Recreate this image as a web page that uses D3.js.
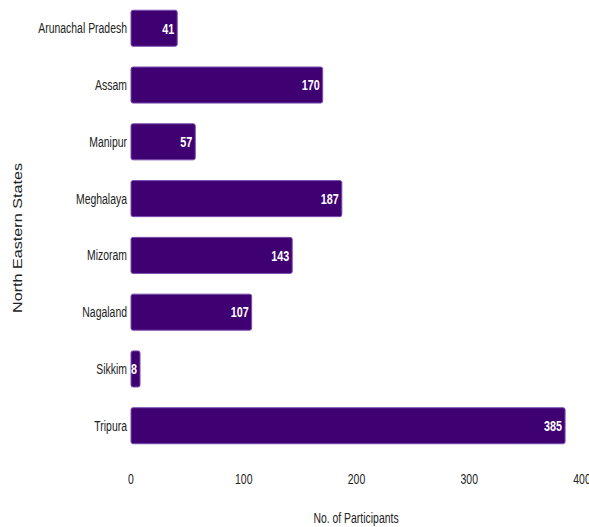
<!DOCTYPE html>
<html>
<head>
<meta charset="utf-8">
<script src="https://cdn.jsdelivr.net/npm/d3@7"></script>
<style>
  body { margin: 0; background: #fff; }
  text { font-family: 'Liberation Sans', Arial, sans-serif; }
</style>
</head>
<body>
<div id="chart"></div>
<script>
const states = ['Arunachal Pradesh', 'Assam', 'Manipur', 'Meghalaya', 'Mizoram', 'Nagaland', 'Sikkim', 'Tripura']
const participants = [41, 170, 57, 187, 143, 107, 8, 385]
const xTicks = [0, 100, 200, 300, 400]

const data = states.map((s, i) => ({ state: s, value: participants[i] }))

const margin = { left: 131, top: 0 }
const squeeze = 0.72 // condensed text look

const svg = d3.select('#chart')
  .append('svg')
  .attr('width', 589)
  .attr('height', 527)

const g = svg.append('g')
  .attr('transform', `translate(${margin.left}, ${margin.top})`)

const x = d3.scaleLinear()
  .domain([0, 400])
  .range([0, 451])

const y = d3.scaleBand()
  .domain(states)
  .range([0, 454])
  .paddingInner(0.365)
  .paddingOuter(0.18)

const mid = d => y(d.state) + y.bandwidth() / 2

// bars
g.selectAll('rect')
  .data(data)
  .enter()
  .append('rect')
    .attr('x', 0)
    .attr('y', d => y(d.state))
    .attr('width', d => x(d.value))
    .attr('height', y.bandwidth())
    .attr('rx', 2)
    .attr('fill', '#3f0072')
    .attr('stroke', '#7a4fb0')
    .attr('stroke-width', 1)

// value labels
g.selectAll('.val')
  .data(data)
  .enter()
  .append('text')
    .attr('class', 'val')
    .attr('transform', d => `translate(${x(d.value) - 3}, ${mid(d)}) scale(${squeeze}, 1)`)
    .attr('dy', '0.35em')
    .attr('text-anchor', 'end')
    .attr('fill', '#fff')
    .attr('font-size', '15px')
    .attr('font-weight', 'bold')
    .text(d => d.value)

// category labels
g.selectAll('.cat')
  .data(data)
  .enter()
  .append('text')
    .attr('class', 'cat')
    .attr('transform', d => `translate(-4, ${mid(d)}) scale(${squeeze}, 1)`)
    .attr('dy', '0.35em')
    .attr('text-anchor', 'end')
    .attr('fill', '#222')
    .attr('font-size', '14.5px')
    .text(d => d.state)

// x tick labels
g.selectAll('.tick-label')
  .data(xTicks)
  .enter()
  .append('text')
    .attr('class', 'tick-label')
    .attr('transform', d => `translate(${x(d)}, 479) scale(${squeeze}, 1)`)
    .attr('dy', '0.35em')
    .attr('text-anchor', 'middle')
    .attr('fill', '#222')
    .attr('font-size', '14.5px')
    .text(d => d)

// x axis label
svg.append('text')
  .attr('transform', `translate(356, 518) scale(${squeeze}, 1)`)
  .attr('dy', '0.35em')
  .attr('text-anchor', 'middle')
  .attr('fill', '#222')
  .attr('font-size', '14.5px')
  .text('No. of Participants')

// y axis label
svg.append('text')
  .attr('transform', 'translate(18, 238) rotate(-90)')
  .attr('dy', '0.35em')
  .attr('text-anchor', 'middle')
  .attr('fill', '#222')
  .attr('font-size', '12.5px')
  .attr('textLength', 150)
  .attr('lengthAdjust', 'spacingAndGlyphs')
  .text('North Eastern States')
</script>
</body>
</html>
